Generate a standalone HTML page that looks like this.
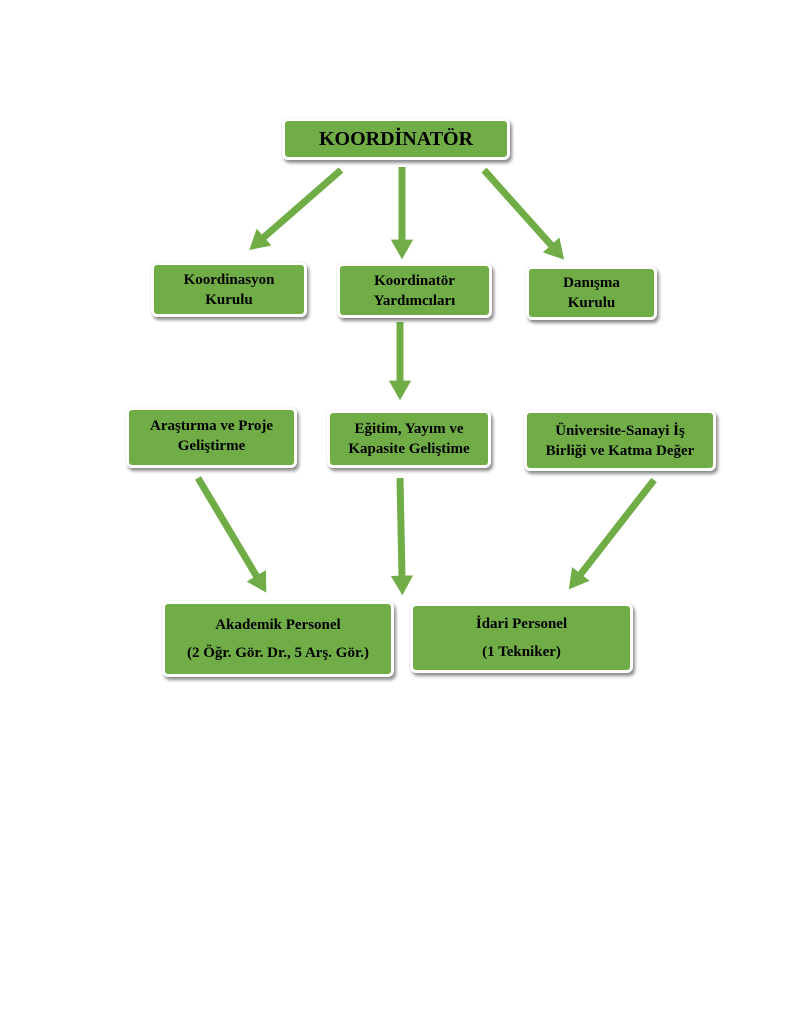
<!DOCTYPE html>
<html><head><meta charset="utf-8"><style>
body{margin:0;width:800px;height:1035px;background:#fff;position:relative;overflow:hidden;font-family:"Liberation Serif",serif;}
.b{position:absolute;box-sizing:border-box;background:#70ad47;border:3px solid #fff;border-radius:6px;box-shadow:2px 3px 3px rgba(0,0,0,0.45),0 0 1px #ccc;display:flex;align-items:center;justify-content:center;text-align:center;font-weight:bold;font-size:15px;line-height:20px;color:#000;}
svg{position:absolute;left:0;top:0}
</style></head><body>
<svg width="800" height="1035">
<defs><marker id="a" markerWidth="3.2" markerHeight="3.2" refX="0.2" refY="1.6" orient="auto" markerUnits="strokeWidth"><path d="M0,0L2.8,1.6L0,3.2z" fill="#70ad47"/></marker></defs>
<g stroke="#70ad47" stroke-width="7" fill="none" marker-end="url(#a)">
<line x1="341" y1="170" x2="263" y2="238"/>
<line x1="402" y1="167" x2="402" y2="241"/>
<line x1="484" y1="170" x2="552" y2="246"/>
<line x1="400" y1="322" x2="400" y2="382"/>
<line x1="198" y1="478" x2="257" y2="577"/>
<line x1="400" y1="478" x2="402" y2="577"/>
<line x1="654" y1="480" x2="580" y2="575"/>
</g></svg>
<div class="b" style="left:282px;top:118px;width:228px;height:42px;font-size:20px">KOORDİNATÖR</div>
<div class="b" style="left:151px;top:262px;width:156px;height:55px">Koordinasyon<br>Kurulu</div>
<div class="b" style="left:337px;top:263px;width:155px;height:55px">Koordinatör<br>Yardımcıları</div>
<div class="b" style="left:526px;top:266px;width:131px;height:54px">Danışma<br>Kurulu</div>
<div class="b" style="left:126px;top:407px;width:171px;height:61px;align-items:flex-start;padding-top:6px">Araştırma ve Proje<br>Geliştirme</div>
<div class="b" style="left:327px;top:410px;width:164px;height:58px">Eğitim, Yayım ve<br>Kapasite Geliştime</div>
<div class="b" style="left:524px;top:410px;width:192px;height:61px">Üniversite-Sanayi İş<br>Birliği ve Katma Değer</div>
<div class="b" style="left:162px;top:601px;width:232px;height:76px;line-height:28px">Akademik Personel<br>(2 Öğr. Gör. Dr., 5 Arş. Gör.)</div>
<div class="b" style="left:410px;top:603px;width:223px;height:70px;line-height:28px">İdari Personel<br>(1 Tekniker)</div>
</body></html>
